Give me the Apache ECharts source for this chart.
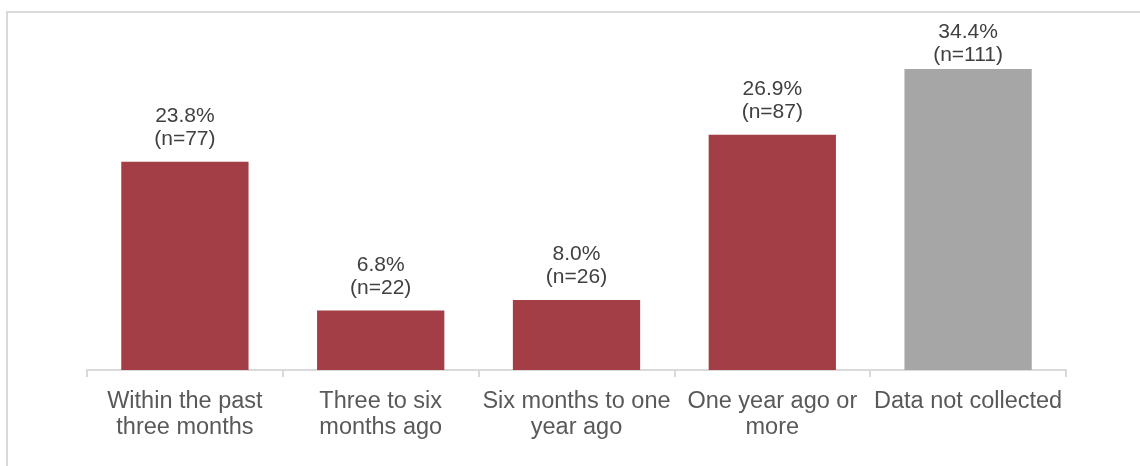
<!DOCTYPE html>
<html>
<head>
<meta charset="utf-8">
<style>
  html, body { margin: 0; padding: 0; background: #ffffff; }
  #chart { width: 1140px; height: 466px; }
</style>
<script src="https://cdn.jsdelivr.net/npm/echarts@6/dist/echarts.min.js"></script>
</head>
<body>
<div id="chart"></div>
<script>
// Time since last contact, share of respondents per category
const categories = [
  'Within the past\nthree months',
  'Three to six\nmonths ago',
  'Six months to one\nyear ago',
  'One year ago or\nmore',
  'Data not collected'
];
const percents = [23.8, 6.8, 8.0, 26.9, 34.4];
const counts = [77, 22, 26, 87, 111];
const barColors = ['#A43E46', '#A43E46', '#A43E46', '#A43E46', '#A6A6A6'];

const chart = echarts.init(document.getElementById('chart'), null, { renderer: 'canvas' });

const font = '"Liberation Sans", Arial, sans-serif';
const maxValue = Math.max(...percents);

chart.setOption({
  animation: false,
  backgroundColor: '#ffffff',
  graphic: [{
    type: 'rect',
    silent: true,
    z: -10,
    shape: { x: 7, y: 12, width: 1300, height: 600 },
    style: { fill: 'none', stroke: '#d9d9d9', lineWidth: 2 }
  }],
  grid: { left: 87, right: 74, top: 20, bottom: 96, containLabel: false },
  xAxis: {
    type: 'category',
    data: categories,
    axisLine: { show: true, lineStyle: { color: '#d9d9d9', width: 2 } },
    axisTick: { show: true, length: 7, lineStyle: { color: '#d9d9d9', width: 2 } },
    axisLabel: {
      interval: 0,
      margin: 19,
      color: '#595959',
      fontFamily: font,
      fontSize: 23.5,
      lineHeight: 26
    }
  },
  yAxis: {
    type: 'value',
    min: 0,
    max: 40,
    show: false,
    splitLine: { show: false }
  },
  series: [{
    type: 'bar',
    barCategoryGap: '35%',
    // the tallest bar's label sits closer so it stays inside the frame
    data: percents.map((v, i) => ({
      value: v,
      itemStyle: { color: barColors[i] },
      label: { distance: v === maxValue ? 2 : 11 }
    })),
    label: {
      show: true,
      position: 'top',
      color: '#404040',
      fontFamily: font,
      fontSize: 21,
      lineHeight: 23,
      align: 'center',
      formatter: p => percents[p.dataIndex].toFixed(1) + '%\n(n=' + counts[p.dataIndex] + ')'
    }
  }]
});
</script>
</body>
</html>
